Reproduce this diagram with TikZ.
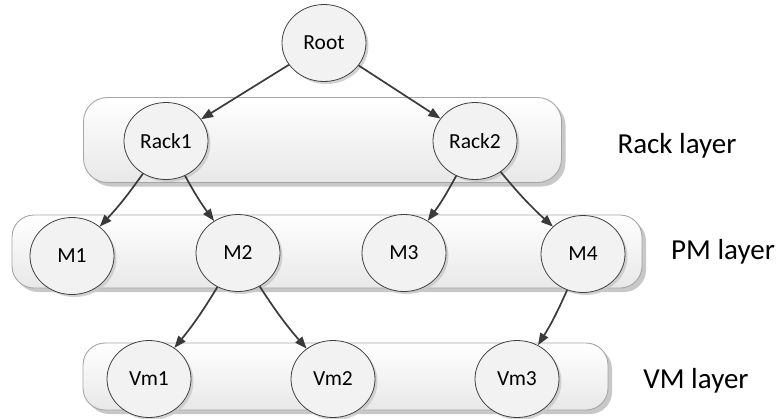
\documentclass[tikz,border=0pt]{standalone}
\usepackage{fontspec}
\setmainfont{Carlito}
\usetikzlibrary{arrows.meta,shadows,shapes.geometric}

\definecolor{boxline}{HTML}{A6A6A6}
\definecolor{boxfill}{HTML}{E8E8E8}
\definecolor{shadowgray}{HTML}{C8C8C8}
\definecolor{nodeline}{HTML}{404040}
\definecolor{nodefill}{HTML}{F2F2F2}
\definecolor{edgecol}{HTML}{3A3A3A}

\begin{document}
\begin{tikzpicture}[x=1pt,y=-1pt,
  layerbox/.style={rectangle, draw=boxline, line width=0.9pt, rounded corners=24pt,
    top color=white, bottom color=boxfill, inner sep=0pt,
    drop shadow={shadow xshift=4pt, shadow yshift=-4pt, fill=shadowgray, opacity=1}},
  unit/.style={ellipse, draw=nodeline, line width=0.8pt, fill=nodefill,
    minimum width=84pt, minimum height=77pt, inner sep=0pt,
    font=\fontsize{21.5}{24}\selectfont,
    drop shadow={shadow xshift=2.5pt, shadow yshift=-2.5pt, fill=shadowgray, opacity=0.8}},
  layerlabel/.style={font=\fontsize{29}{32}\selectfont, text=black},
  link/.style={draw=edgecol, line width=1.7pt, -{Triangle[length=12pt,width=9pt]}},
  sw/.style={link, bend left=4},
  se/.style={link, bend right=4}
]
\useasboundingbox (0,0) rectangle (781,418);

% layer bands
\node[layerbox, minimum width=478pt, minimum height=85pt] (rackband) at (322.5,140) {};
\node[layerbox, minimum width=630pt, minimum height=73pt, rounded corners=22pt] (pmband) at (327,251.5) {};
\node[layerbox, minimum width=525pt, minimum height=67pt, rounded corners=22pt] (vmband) at (345.5,376.5) {};

% tree nodes
\node[unit] (root) at (324,43) {Root};
\node[unit] (rack1) at (166,141) {Rack1};
\node[unit] (rack2) at (475,141) {Rack2};
\node[unit] (m1) at (72,256) {M1};
\node[unit] (m2) at (238,253) {M2};
\node[unit] (m3) at (404,253) {M3};
\node[unit] (m4) at (583,254) {M4};
\node[unit] (vm1) at (149,379) {Vm1};
\node[unit] (vm2) at (333,379) {Vm2};
\node[unit] (vm3) at (517,379) {Vm3};

% layer names
\node[layerlabel] (racklbl) at (677,146) {Rack layer};
\node[layerlabel] (pmlbl) at (723,252) {PM layer};
\node[layerlabel] (vmlbl) at (696,381) {VM layer};

% links
\draw[link] (root) -- (rack1);
\draw[link] (root) -- (rack2);
\draw[sw] (rack1) to (m1);
\draw[se] (rack1) to (m2);
\draw[sw] (rack2) to (m3);
\draw[se] (rack2) to (m4);
\draw[sw] (m2) to (vm1);
\draw[se] (m2) to (vm2);
\draw[sw] (m4) to (vm3);
\end{tikzpicture}
\end{document}
